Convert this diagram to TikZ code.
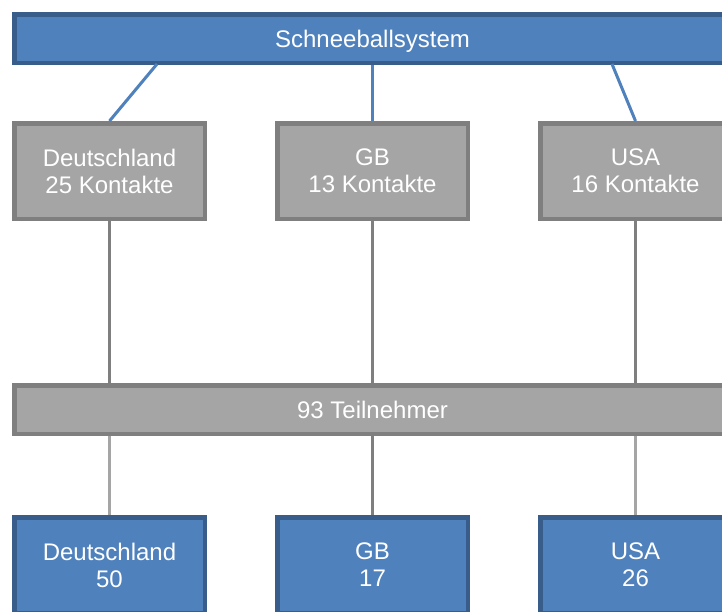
\documentclass[tikz,border=0pt]{standalone}
\usepackage{fontspec}
\setmainfont{Liberation Sans}
\definecolor{blueFill}{HTML}{4F81BD}
\definecolor{blueEdge}{HTML}{385D8A}
\definecolor{greyFill}{HTML}{A5A5A5}
\definecolor{greyEdge}{HTML}{7F7F7F}
\begin{document}
\begin{tikzpicture}[x=1pt,y=-1pt,
  box/.style={draw, line width=4.5pt, inner sep=0pt, align=center, text=white,
    font=\fontsize{24}{27}\selectfont},
  bluebox/.style={box, fill=blueFill, draw=blueEdge},
  greybox/.style={box, fill=greyFill, draw=greyEdge},
  country/.style={minimum width=190.5pt, minimum height=95.5pt},
  bar/.style={minimum width=716.5pt, minimum height=48.5pt, text depth=0pt},
  blueline/.style={draw=blueFill, line width=3pt},
  darkline/.style={draw=greyEdge, line width=3pt},
  lightline/.style={draw=greyFill, line width=3pt}]
\useasboundingbox (0,0) rectangle (722,611);
\clip (0,0) rectangle (722,611);
\fill[white] (0,0) rectangle (722,611);

% top bar
\node[bluebox, bar] (sys) at (372.5,38.5) {Schneeballsystem};

% contact boxes
\node[greybox, country] (de1) at (109.5,171) {Deutschland\\25 Kontakte};
\node[greybox, country] (gb1) at (372.5,171) {GB\\13 Kontakte};
\node[greybox, country] (us1) at (635.5,171) {USA\\16 Kontakte};

% participants bar
\node[greybox, bar] (all) at (372.5,409.5) {93 Teilnehmer};

% result boxes
\node[bluebox, country] (de2) at (109.5,565) {Deutschland\\50};
\node[bluebox, country] (gb2) at (372.5,565) {GB\\17};
\node[bluebox, country] (us2) at (635.5,565) {USA\\26};

% attachment points on the top bar
\coordinate (s1) at (157,64);
\coordinate (s3) at (612,64);

% connectors
\draw[blueline] (s1) -- (de1.north);
\draw[blueline] (sys.south -| gb1.north) -- (gb1.north);
\draw[blueline] (s3) -- (us1.north);

\draw[darkline] (de1.south) -- (all.north -| de1.south);
\draw[darkline] (gb1.south) -- (all.north -| gb1.south);
\draw[darkline] (us1.south) -- (all.north -| us1.south);

\draw[lightline] (all.south -| de2.north) -- (de2.north);
\draw[darkline] (all.south -| gb2.north) -- (gb2.north);
\draw[lightline] (all.south -| us2.north) -- (us2.north);
\end{tikzpicture}
\end{document}
